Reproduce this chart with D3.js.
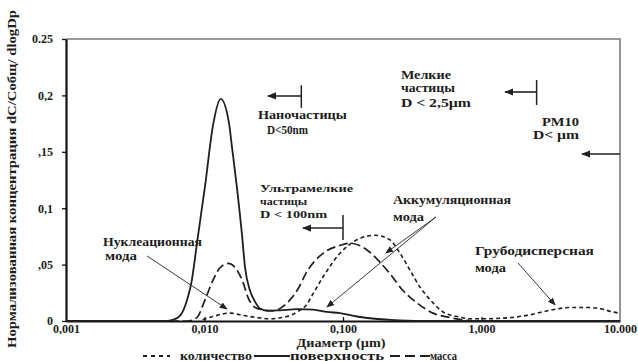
<!DOCTYPE html>
<html><head><meta charset="utf-8">
<script src="https://cdn.jsdelivr.net/npm/d3@7/dist/d3.min.js"></script>
<style>
html,body{margin:0;padding:0;background:#fff;}
svg text{font-family:"Liberation Serif","DejaVu Serif",serif;font-weight:bold;fill:#1c1c1c;}
</style></head>
<body><svg id="c" width="638" height="361"></svg>
<script>
// ---------- DATA ----------
const xTicks = [0.001, 0.01, 0.1, 1, 10];
const xTickLabels = ["0,001", "0,010", "0,100", "1,000", "10.000"];
const yTicks = [0, 0.05, 0.1, 0.15, 0.2, 0.25];
const yTickLabels = ["0", ",05", "0,1", ",15", "0,2", "0.25"];

// поверхность (solid)
const surfD = [0.001, 0.0053, 0.0059, 0.0067, 0.0075, 0.0081, 0.0085, 0.0088, 0.0101, 0.0115, 0.0131, 0.0150, 0.0158, 0.0172, 0.0187, 0.0196, 0.0213, 0.0232, 0.0252, 0.0283, 0.0351, 0.0466, 0.0607, 0.0766, 0.0951, 0.126, 0.17, 0.22, 0.36, 10];
const surfV = [0, 0, 0.001, 0.005, 0.019, 0.036, 0.054, 0.068, 0.12, 0.173, 0.197, 0.176, 0.154, 0.117, 0.075, 0.048, 0.027, 0.017, 0.011, 0.009, 0.0095, 0.0105, 0.010, 0.008, 0.007, 0.004, 0.002, 0.001, 0, 0];

// масса (long dashes)
const massD = [0.001, 0.0075, 0.0088, 0.0101, 0.0115, 0.0129, 0.0148, 0.0172, 0.0190, 0.0206, 0.0232, 0.0264, 0.0312, 0.0394, 0.0466, 0.0550, 0.0717, 0.0951, 0.112, 0.149, 0.179, 0.218, 0.271, 0.342, 0.447, 0.593, 0.735, 0.9];
const massV = [0, 0, 0.003, 0.019, 0.036, 0.047, 0.051, 0.045, 0.034, 0.021, 0.012, 0.010, 0.009, 0.016, 0.027, 0.044, 0.060, 0.067, 0.069, 0.063, 0.054, 0.042, 0.027, 0.016, 0.007, 0.003, 0.001, 0];

// количество (short dashes)
const numD = [0.0097, 0.0115, 0.0153, 0.0190, 0.0239, 0.0297, 0.0394, 0.0466, 0.0550, 0.0607, 0.0717, 0.0951, 0.126, 0.170, 0.218, 0.258, 0.305, 0.360, 0.425, 0.527, 0.665, 0.826, 1.025, 1.607, 2.13, 3.28, 4.35, 5.78, 7.18, 8.89, 9.84];
const numV = [0.001, 0.004, 0.007, 0.005, 0.003, 0.002, 0.004, 0.008, 0.015, 0.024, 0.039, 0.060, 0.072, 0.076, 0.072, 0.060, 0.045, 0.030, 0.019, 0.008, 0.004, 0.002, 0.002, 0.003, 0.005, 0.010, 0.012, 0.012, 0.011, 0.008, 0.007];

const seriesNames = ["количество", "поверхность", "масса"];
const xTitle = "Диаметр  (µm)";
const yTitle = "Нормализованная концентрация dC/Cобщ/ dlogDp";

// annotation texts with anchor in data units [diameter µm, value]
const labelTexts = ["Наночастицы", "D<50nm", "Нуклеационная", "мода", "Ультрамелкие", "частицы", "D < 100nm",
  "Мелкие", "частицы", "D <  2,5µm", "PM10", "D< µm", "Аккумуляционная", "мода", "Грубодисперсная", "мода"];
const labelD = [0.0243, 0.0283, 0.00185, 0.00191, 0.0252, 0.0252, 0.0252, 0.262, 0.262, 0.262, 2.73, 2.35, 0.2296, 0.2296, 0.897, 0.897];
const labelV = [0.179, 0.166, 0.0665, 0.054, 0.1145, 0.103, 0.0915, 0.2145, 0.203, 0.1897, 0.1729, 0.1613, 0.1037, 0.0887, 0.0585, 0.0434];

// pointer arrows: from [d,v] to [d,v]
const pointerFrom = [[0.00385, 0.0576], [0.469, 0.0922], [0.469, 0.0922], [1.835, 0.0514]];
const pointerTo = [[0.01454, 0.0106], [0.204, 0.0603], [0.0766, 0.0124], [3.40, 0.0142]];

// size-class limits (µm): bracket top/bottom values, arrow value, arrow end diameter
const limitD = [0.05, 0.1, 2.5];
const limitTop = [0.209, 0.094, 0.2137];
const limitBot = [0.189, 0.0718, 0.1915];
const limitArrowV = [0.1995, 0.0824, 0.203];
const limitArrowEnd = [0.0287, 0.0514, 1.479];
const pm10Arrow = [[10, 0.148], [5.32, 0.148]];

// ---------- STYLE / LAYOUT ----------
const labelWidths = [89, 41, 99, 32, 93, 47, 67, 50, 54, 70, 37, 46, 118, 31, 119, 31];
const labelSizes = [12.5, 12.5, 12.5, 12.5, 11, 11, 11, 12.5, 12, 12.5, 12.5, 12.5, 12.5, 12.5, 12.5, 12.5];
const seriesDash = ["4,3", null, "9,4"];
const seriesWidth = [1.6, 1.8, 1.7];

const svg = d3.select("#c");
const x = d3.scaleLog().domain([0.001, 10]).range([66, 620]);
const y = d3.scaleLinear().domain([0, 0.25]).range([321, 39]);

const defs = svg.append("defs");
function marker(id, size) {
  defs.append("marker").attr("id", id).attr("viewBox", "0 0 10 10").attr("refX", 9).attr("refY", 5)
    .attr("markerWidth", size).attr("markerHeight", size).attr("markerUnits", "userSpaceOnUse")
    .attr("orient", "auto").append("path").attr("d", "M0,1 L10,5 L0,9 z").attr("fill", "#222");
}
marker("ah", 8);
marker("ahb", 9);

// frame
svg.append("path").attr("d", `M${x(0.001)},${y(0.25)} H${x(10)} V${y(0)}`)
  .attr("fill", "none").attr("stroke", "#7a7a7a").attr("stroke-width", 1.6);

// axes
const gx = svg.append("g").attr("transform", `translate(0,${y(0)})`)
  .call(d3.axisBottom(x).tickValues(xTicks).tickFormat((d, i) => xTickLabels[i]).tickSize(-4).tickSizeOuter(0).tickPadding(3.5));
gx.selectAll("text").attr("font-size", 12).attr("fill", "#1c1c1c");
const gy = svg.append("g").attr("transform", `translate(${x(0.001)},0)`)
  .call(d3.axisLeft(y).tickValues(yTicks).tickFormat((d, i) => yTickLabels[i]).tickSize(4).tickSizeOuter(0).tickPadding(9));
gy.selectAll("text").attr("font-size", 12).attr("fill", "#1c1c1c");
[gx, gy].forEach(g => {
  g.select(".domain").attr("stroke", "#111").attr("stroke-width", 2.2);
  g.selectAll(".tick line").attr("stroke", "#111").attr("stroke-width", 1.3);
});
gx.selectAll(".tick").filter(d => d === 0.001 || d === 10).select("line").remove();

// curves
const line = d3.line().x(d => x(d[0])).y(d => y(d[1])).curve(d3.curveMonotoneX);
const series = [d3.zip(numD, numV), d3.zip(surfD, surfV), d3.zip(massD, massV)];
series.forEach((s, i) => {
  svg.append("path").datum(s).attr("d", line).attr("fill", "none").attr("stroke", "#1e1e1e")
    .attr("stroke-width", seriesWidth[i]).attr("stroke-dasharray", seriesDash[i]);
});

// size limit brackets
limitD.forEach((d, i) => {
  svg.append("line").attr("x1", x(d)).attr("x2", x(d)).attr("y1", y(limitTop[i])).attr("y2", y(limitBot[i]))
    .attr("stroke", "#222").attr("stroke-width", 1.5);
  svg.append("line").attr("x1", x(d)).attr("x2", x(limitArrowEnd[i])).attr("y1", y(limitArrowV[i])).attr("y2", y(limitArrowV[i]))
    .attr("stroke", "#222").attr("stroke-width", 1.6).attr("marker-end", "url(#ahb)");
});
svg.append("line").attr("x1", x(pm10Arrow[0][0])).attr("y1", y(pm10Arrow[0][1]))
  .attr("x2", x(pm10Arrow[1][0])).attr("y2", y(pm10Arrow[1][1]))
  .attr("stroke", "#222").attr("stroke-width", 1.6).attr("marker-end", "url(#ahb)");

// pointer arrows
pointerFrom.forEach((f, i) => {
  const t = pointerTo[i];
  svg.append("line").attr("x1", x(f[0])).attr("y1", y(f[1])).attr("x2", x(t[0])).attr("y2", y(t[1]))
    .attr("stroke", "#3a3a3a").attr("stroke-width", 1).attr("marker-end", "url(#ah)");
});

// labels
labelTexts.forEach((t, i) => {
  svg.append("text").attr("x", x(labelD[i])).attr("y", y(labelV[i])).attr("font-size", labelSizes[i])
    .attr("textLength", labelWidths[i]).attr("lengthAdjust", "spacingAndGlyphs").text(t);
});

// axis titles
svg.append("text").attr("x", 341).attr("y", 347).attr("text-anchor", "middle").attr("font-size", 11.5)
  .attr("textLength", 89).attr("lengthAdjust", "spacingAndGlyphs").text(xTitle);
svg.append("text").attr("transform", "translate(16,179) rotate(-90)").attr("text-anchor", "middle")
  .attr("font-size", 12.5).attr("textLength", 338).attr("lengthAdjust", "spacingAndGlyphs").text(yTitle);

// legend
const legX = [143, 254, 390], legLen = [27, 36, 40], legTextX = [180, 290, 430], legTextW = [72, 94, 27];
seriesNames.forEach((n, i) => {
  svg.append("line").attr("x1", legX[i]).attr("x2", legX[i] + legLen[i]).attr("y1", 356).attr("y2", 356)
    .attr("stroke", "#1e1e1e").attr("stroke-width", 1.8).attr("stroke-dasharray", seriesDash[i] ? (i === 0 ? "4,4" : "10,5") : null);
  svg.append("text").attr("x", legTextX[i]).attr("y", 360).attr("font-size", 11.5)
    .attr("textLength", legTextW[i]).attr("lengthAdjust", "spacingAndGlyphs").text(n);
});
</script></body></html>
